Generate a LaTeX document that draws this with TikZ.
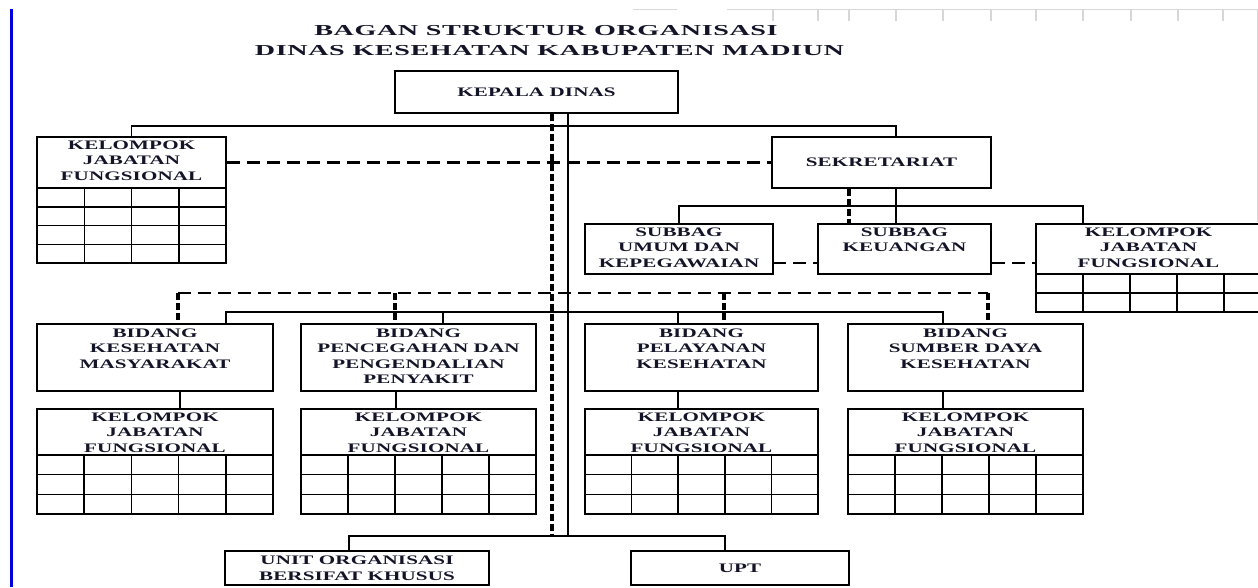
\documentclass[tikz,border=0pt]{standalone}
\usepackage{fontspec}
\setmainfont{Liberation Serif}
\newfontfamily\bodyf{Liberation Serif}[FakeStretch=1.62,LetterSpace=1]
\newfontfamily\titlef{Liberation Serif}[FakeStretch=1.85,LetterSpace=4]
\usetikzlibrary{calc}
\definecolor{ink}{RGB}{20,20,40}
\definecolor{barblue}{RGB}{0,0,225}
\definecolor{ruler}{RGB}{215,215,215}
\newcommand\orgbox[5]{%
  \node[boxst, minimum width={(#4-#2)*1pt}, minimum height={(#5-#3)*1pt}] (#1) at ({(#2+#4)/2},{(#3+#5)/2}) {};}
% name x1 y1 x2 yh y2 cols rows
\newcommand\kjfbox[8]{%
  \node[boxst, minimum width={(#4-#2)*1pt}, minimum height={(#5-#3)*1pt}] (#1) at ({(#2+#4)/2},{(#3+#5)/2}) {};
  \node[boxst, minimum width={(#4-#2)*1pt}, minimum height={(#6-#5)*1pt}] (#1g) at ({(#2+#4)/2},{(#5+#6)/2}) {};
  \pgfmathtruncatemacro\nr{#8-1}%
  \pgfmathtruncatemacro\nc{#7-1}%
  \foreach \i in {1,...,\nr} {\draw[gridl] ({#2},{#5+\i*(#6-#5)/#8}) -- ({#4},{#5+\i*(#6-#5)/#8});}
  \foreach \j in {1,...,\nc} {\draw[gridl] ({#2+\j*(#4-#2)/#7},{#5}) -- ({#2+\j*(#4-#2)/#7},{#6});}
}
\begin{document}
\begin{tikzpicture}[x=1pt,y=-1pt,
  boxst/.style={draw=black, line width=1.8pt, inner sep=0pt},
  txt/.style={font=\bodyf\bfseries\fontsize{13}{15.5}\selectfont, text=ink, align=center, inner sep=0pt},
  titlest/.style={font=\titlef\bfseries\fontsize{15.2}{17}\selectfont, text=ink, inner sep=0pt},
  solidc/.style={draw=black, line width=1.4pt},
  dashc/.style={draw=black, line width=2.3pt, dash pattern=on 13pt off 7pt},
  dropc/.style={draw=black, line width=3.5pt, dash pattern=on 7pt off 3pt},
  gridl/.style={draw=black, line width=1.5pt},
]
\clip (0,0) rectangle (1258,587);
\fill[white] (0,0) rectangle (1258,587);
% ruler marks and side bar
\draw[ruler, line width=1pt] (633,9.5) -- (677,9.5) (727,9.5) -- (1258,9.5);
\foreach \t in {773,818,849,896,943,991,1036,1083,1131,1178,1223}
  \draw[ruler, line width=1.2pt] (\t,10) -- (\t,21);
\draw[ruler, line width=1pt] (1257,9.5) -- (1257,222);
\draw[barblue, line width=3.5pt] (11.3,9) -- (11.3,587);
% title
\node[titlest] (title1) at (546,30.5) {BAGAN STRUKTUR ORGANISASI};
\node[titlest] (title2) at (549.5,50.7) {DINAS KESEHATAN KABUPATEN MADIUN};
% boxes
\orgbox{kd}{395}{71}{678}{113}
\orgbox{sek}{772}{137}{991}{188}
\orgbox{umum}{585}{224}{773}{274}
\orgbox{keu}{818}{224}{991}{274}
\orgbox{bkm}{37}{324}{273}{391}
\orgbox{bp2p}{301}{324}{536}{391}
\orgbox{bpel}{585}{324}{818}{391}
\orgbox{bsdk}{848}{324}{1083}{391}
\orgbox{uobk}{225}{551}{489}{585}
\orgbox{upt}{631}{551}{849}{585}
\kjfbox{kjf0}{37}{137}{226}{188}{263}{4}{4}
\kjfbox{kjfR}{1036}{224}{1271}{274}{312}{5}{2}
\kjfbox{kkm}{37}{409}{273}{455}{514}{5}{3}
\kjfbox{kp2p}{301}{409}{536}{455}{514}{5}{3}
\kjfbox{kpel}{585}{409}{818}{455}{514}{5}{3}
\kjfbox{ksdk}{848}{409}{1083}{455}{514}{5}{3}
% texts
\node[txt] (kd-t) at (kd.center) {KEPALA DINAS};
\node[txt] (sek-t) at (sek.center) {SEKRETARIAT};
\node[txt] (upt-t) at (upt.center) {UPT};
\node[txt] (uobk-t) at (uobk.center) {UNIT ORGANISASI\\BERSIFAT KHUSUS};
\node[txt, anchor=north] (umum-t) at ($(umum.north)+(0,4.5)$) {SUBBAG\\UMUM DAN\\KEPEGAWAIAN};
\node[txt, anchor=north] (keu-t) at ($(keu.north)+(0,4.5)$) {SUBBAG\\KEUANGAN};
\node[txt, anchor=north] (kjf0-t) at ($(kjf0.north)+(0,4.5)$) {KELOMPOK\\JABATAN\\FUNGSIONAL};
\node[txt, anchor=north] (kjfR-t) at ($(kjfR.north)+(-5,4.5)$) {KELOMPOK\\JABATAN\\FUNGSIONAL};
\node[txt, anchor=north] (bkm-t) at ($(bkm.north)+(0,5.5)$) {BIDANG\\KESEHATAN\\MASYARAKAT};
\node[txt, anchor=north] (bp2p-t) at ($(bp2p.north)+(0,5.5)$) {BIDANG\\PENCEGAHAN DAN\\PENGENDALIAN\\PENYAKIT};
\node[txt, anchor=north] (bpel-t) at ($(bpel.north)+(0,5.5)$) {BIDANG\\PELAYANAN\\KESEHATAN};
\node[txt, anchor=north] (bsdk-t) at ($(bsdk.north)+(0,5.5)$) {BIDANG\\SUMBER DAYA\\KESEHATAN};
\foreach \k in {kkm,kp2p,kpel,ksdk}
  \node[txt, anchor=north] (\k-t) at ($(\k.north)+(0,4.5)$) {KELOMPOK\\JABATAN\\FUNGSIONAL};
% junction coordinates
\coordinate (mS) at (568,536);
\coordinate (mD) at (552,536);
\coordinate (sekIn) at (896,126);
\coordinate (sb0) at (896,206);
\coordinate (sb1) at (1083,206);
\coordinate (sd) at (849,0);
\coordinate (dd) at (773,263);
\coordinate (s1) at (226,312);
\coordinate (s2) at (443,312);
\coordinate (s3) at (678,312);
\coordinate (s4) at (943,312);
\coordinate (d1) at (178,293);
\coordinate (d2) at (395,293);
\coordinate (d3) at (724,293);
\coordinate (d4) at (988,293);
\coordinate (c1) at (180,0);
\coordinate (c2) at (396,0);
\coordinate (c3) at (678,0);
\coordinate (c4) at (943,0);
\coordinate (u1) at (349,536);
\coordinate (u2) at (725,536);
% solid connectors
\draw[solidc] (kd.south -| mS) -- (mS);
\draw[solidc] (kjf0.north) |- (sekIn) -- (sekIn |- sek.north);
\draw[solidc] (sek.south -| sb0) -- (keu.north -| sb0);
\draw[solidc] (umum.north) |- (sb1) -- (sb1 |- kjfR.north);
\draw[solidc] (s1 |- bkm.north) |- (s4) -- (s4 |- bsdk.north);
\draw[solidc] (s2) -- (s2 |- bp2p.north);
\draw[solidc] (s3) -- (s3 |- bpel.north);
\draw[solidc] (bkm.south -| c1) -- (kkm.north -| c1);
\draw[solidc] (bp2p.south -| c2) -- (kp2p.north -| c2);
\draw[solidc] (bpel.south -| c3) -- (kpel.north -| c3);
\draw[solidc] (bsdk.south -| c4) -- (ksdk.north -| c4);
\draw[solidc] (u1 |- uobk.north) |- (u2) -- (u2 |- upt.north);
% dashed connectors
\draw[dropc] (kd.south -| mD) -- (mD);
\draw[dashc] (kjf0.east) -- (sek.west);
\draw[dropc] (sek.south -| sd) -- (keu.north -| sd);
\draw[dashc] (dd) -- (dd -| keu.west);
\draw[dashc] (dd -| keu.east) -- (dd -| kjfR.west);
\draw[dashc] (d1) -- (d4);
\draw[dropc] (d1) -- (d1 |- bkm.north);
\draw[dropc] (d2) -- (d2 |- bp2p.north);
\draw[dropc] (d3) -- (d3 |- bpel.north);
\draw[dropc] (d4) -- (d4 |- bsdk.north);
\end{tikzpicture}
\end{document}
